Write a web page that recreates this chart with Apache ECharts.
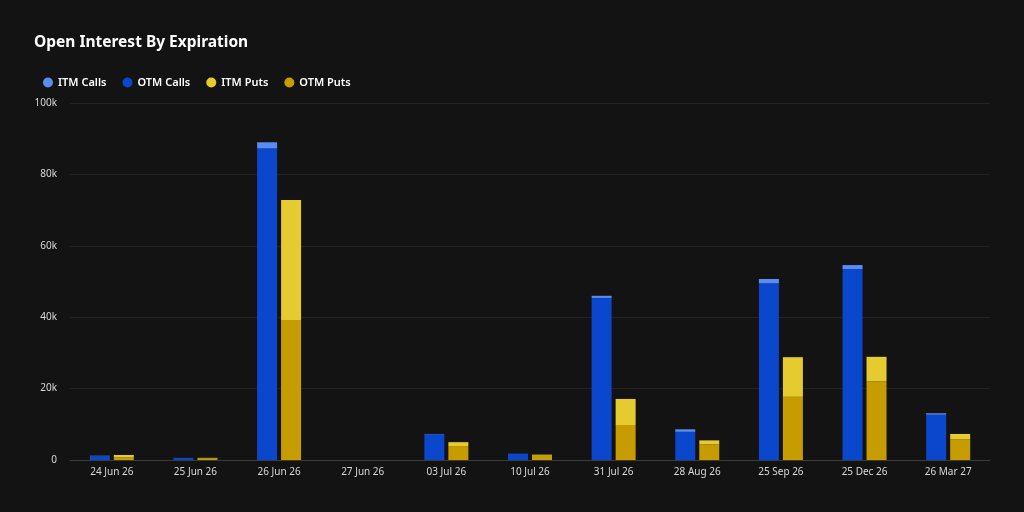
<!DOCTYPE html>
<html>
<head>
<meta charset="utf-8">
<script src="https://cdn.jsdelivr.net/npm/echarts@6/dist/echarts.min.js"></script>
<style>
  html, body { margin: 0; padding: 0; background: #131313; }
  #chart { width: 1024px; height: 512px; }
</style>
</head>
<body>
<div id="chart"></div>
<script>
// 到期日
var expiries = ['24 Jun 26', '25 Jun 26', '26 Jun 26', '27 Jun 26', '03 Jul 26', '10 Jul 26',
    '31 Jul 26', '28 Aug 26', '25 Sep 26', '25 Dec 26', '26 Mar 27'];

// 未平仓量（27 Jun 26 无数据）
var otmCalls = [1100, 600, 87300, null, 7200, 1800, 45400, 7900, 49500, 53500, 12700];
var itmCalls = [100, null, 1700, null, 100, null, 600, 700, 1200, 1100, 400];
var otmPuts = [700, 400, 39200, null, 3900, 1200, 9800, 4400, 17700, 22000, 5800];
var itmPuts = [700, 200, 33600, null, 1100, 300, 7300, 1100, 11100, 6900, 1500];

var chart = echarts.init(document.getElementById('chart'));

function barSeries(name, stack, data, color) {
    return {
        name: name,
        type: 'bar',
        stack: stack,
        data: data,
        barWidth: 20,
        barGap: '20%',
        itemStyle: { color: color },
        animation: false
    };
}

var option = {
    backgroundColor: '#131313',
    textStyle: { fontFamily: 'Noto Sans' },
    title: {
        text: 'Open Interest By Expiration',
        left: 29,
        top: 30,
        textStyle: { color: '#ffffff', fontSize: 15.5, fontWeight: 'bold', fontFamily: 'Noto Sans' }
    },
    legend: {
        left: 38,
        top: 72,
        icon: 'circle',
        itemWidth: 10,
        itemHeight: 10,
        itemGap: 16,
        textStyle: { color: '#ffffff', fontSize: 11, fontWeight: 600 },
        data: ['ITM Calls', 'OTM Calls', 'ITM Puts', 'OTM Puts']
    },
    grid: {
        left: 70,
        right: 34,
        top: 103,
        bottom: 52
    },
    xAxis: {
        type: 'category',
        data: expiries,
        axisLine: { lineStyle: { color: '#3a3a3a' } },
        axisTick: { show: false },
        axisLabel: { color: '#d8d8d8', fontSize: 10, margin: 7 }
    },
    yAxis: {
        type: 'value',
        min: 0,
        max: 100000,
        interval: 20000,
        axisLine: { show: false },
        axisTick: { show: false },
        splitLine: { lineStyle: { color: '#222222' } },
        axisLabel: {
            color: '#d8d8d8',
            fontSize: 10,
            margin: 13,
            formatter: function(v) { return v === 0 ? '0' : (v / 1000) + 'k'; }
        }
    },
    series: [
        barSeries('OTM Calls', 'calls', otmCalls, '#0b47cc'),
        barSeries('ITM Calls', 'calls', itmCalls, '#5b8cf2'),
        barSeries('OTM Puts', 'puts', otmPuts, '#c79c00'),
        barSeries('ITM Puts', 'puts', itmPuts, '#e5cb2f')
    ]
};

chart.setOption(option);
</script>
</body>
</html>
